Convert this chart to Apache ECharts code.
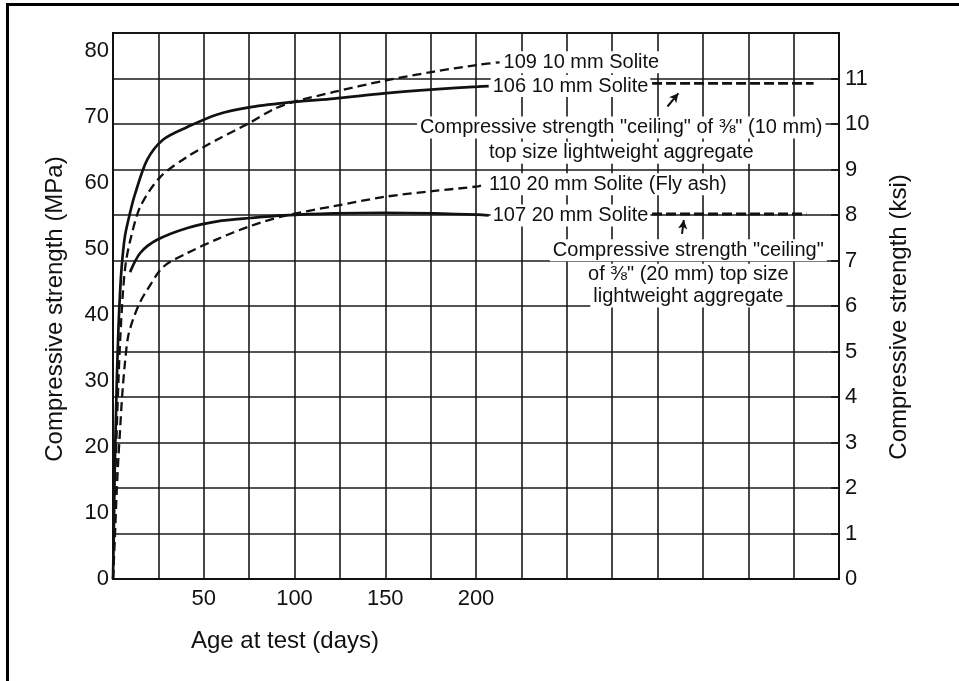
<!DOCTYPE html>
<html>
<head>
<meta charset="utf-8">
<script src="https://cdn.jsdelivr.net/npm/echarts@6/dist/echarts.min.js"></script>
<style>
  html, body { margin: 0; padding: 0; background: #fff; }
  #chart { position: absolute; left: 0; top: 0; width: 959px; height: 681px; }
  #frameTop { position: absolute; left: 6px; top: 3px; width: 953px; height: 3px; background: #000; }
  #frameLeft { position: absolute; left: 6px; top: 3px; width: 3px; height: 678px; background: #000; }
</style>
</head>
<body>
<div id="chart"></div>
<div id="frameTop"></div>
<div id="frameLeft"></div>
<script>
// ---- data (age in days, strength in MPa) ----
const s109 = [[0,0],[0.5,5],[1,12],[2,22],[3,30],[4,36.5],[5.5,43.5],[7,47.8],[9.4,51.2],[15,56.4],[26,60.9],[41,64.0],[57.5,66.6],[75.8,69.2],[88.5,71.2],[99.6,72.3],[121.7,73.8],[149.4,75.5],[177,76.9],[201,77.9],[213,78.3]];
const s106 = [[0,0],[0.5,8],[1,17],[2,29],[3,38],[4,44],[5,48.0],[6.6,52.0],[9.4,55.5],[12,58.2],[18.8,63.5],[27.7,66.6],[41,68.5],[57.5,70.4],[75.8,71.5],[99.6,72.3],[121.7,72.8],[149.4,73.6],[177,74.2],[201,74.6],[207,74.7]];
const s110 = [[0,0],[1,6],[2,13],[3,18.5],[3.9,22.6],[5,27.6],[6.6,32.8],[8.3,36.7],[11,39.3],[15,42.0],[18.8,43.8],[27.7,47.3],[41,49.4],[57.5,51.5],[75.8,53.5],[94,55.0],[121.7,56.5],[149.4,57.9],[177,58.8],[201,59.5],[205,59.8]];
const s107 = [[9.4,46.5],[15,49.4],[24.3,51.4],[41,53.2],[57.5,54.2],[75.8,54.7],[94,55.1],[121.7,55.4],[149.4,55.5],[177,55.4],[201,55.2],[207,55.1]];
const seriesNames = ['109 10 mm Solite', '106 10 mm Solite', '110 20 mm Solite (Fly ash)', '107 20 mm Solite'];

const ceiling10 = [[297,75.1],[386,75.1]];
const ceiling20 = [[297,55.3],[382,55.3]];
const arrow10 = [[305.5,71.6],[311.5,73.6]];
const arrow20 = [[313.5,52.3],[314.5,54.4]];
const note10Lines = ['Compressive strength "ceiling" of \u215C" (10 mm)', 'top size lightweight aggregate'];
const note10Pos = [[280,68.4],[280,64.6]];
const note20Lines = ['Compressive strength "ceiling"', 'of \u215C" (20 mm) top size', 'lightweight aggregate'];
const note20Pos = [[317,49.8],[317,46.1],[317,42.8]];

const xTickLabels = [50, 100, 150, 200];
const mpaTickLabels = [0,10,20,30,40,50,60,70,80];
const ksiTickLabels = [0,1,2,3,4,5,6,7,8,9,10,11];
const KSI = 6.894757;
const ksiMax = 12;

const FONT = "'Liberation Sans', Arial, Helvetica, sans-serif";
const INK = '#111';

function lineSeries(data, name, dashed) {
  return {
    type: 'line', name: name, data: data, yAxisIndex: 0,
    showSymbol: false, smooth: 0.3,
    lineStyle: { color: INK, width: dashed ? 2.3 : 2.7, type: dashed ? [9, 5] : 'solid' },
    endLabel: {
      show: true, formatter: name, color: INK, fontFamily: FONT, fontSize: 20,
      backgroundColor: '#fff', padding: [1, 2], distance: 2
    },
    z: 3
  };
}

function noteMarks(lines, pos) {
  return {
    symbol: 'rect', symbolSize: 0, silent: true,
    label: { show: true, position: 'inside', formatter: '{b}', color: INK, fontFamily: FONT, fontSize: 20,
             backgroundColor: '#fff', padding: [1, 3] },
    data: lines.map((t, i) => ({ name: t, coord: pos[i] }))
  };
}

function arrowMark(a) {
  return {
    silent: true, symbol: ['none', 'arrow'], symbolSize: [7, 9],
    lineStyle: { color: INK, width: 2, type: 'solid' },
    label: { show: false },
    data: [[{ coord: a[0] }, { coord: a[1] }]]
  };
}

const chart = echarts.init(document.getElementById('chart'), null, { renderer: 'canvas' });
chart.setOption({
  animation: false,
  backgroundColor: 'transparent',
  textStyle: { fontFamily: FONT, color: INK },
  grid: { left: 113, right: 120, top: 33, bottom: 102, show: true, borderColor: INK, borderWidth: 2, backgroundColor: 'transparent' },
  xAxis: {
    type: 'value', min: 0, max: 400, interval: 25,
    axisLine: { show: true, lineStyle: { color: INK, width: 2 } },
    axisTick: { show: false },
    splitLine: { show: true, lineStyle: { color: '#1a1a1a', width: 1.6 } },
    axisLabel: { color: INK, fontFamily: FONT, fontSize: 22, margin: 9,
      formatter: v => xTickLabels.includes(v) ? String(v) : '' },
    name: 'Age at test (days)', nameLocation: 'middle', nameGap: 50,
    nameTextStyle: { color: INK, fontFamily: FONT, fontSize: 24, padding: [0, 382, 0, 0] }
  },
  yAxis: [
    {
      type: 'value', position: 'left', min: 0, max: ksiMax * KSI, interval: 10,
      axisLine: { show: true, lineStyle: { color: INK, width: 2 } },
      axisTick: { show: false },
      splitLine: { show: false },
      axisLabel: { color: INK, fontFamily: FONT, fontSize: 22, margin: 4, showMaxLabel: false,
        formatter: v => { const r = Math.round(v); return (Math.abs(v - r) < 1e-6 && mpaTickLabels.includes(r)) ? String(r) : ''; } },
      name: 'Compressive strength (MPa)', nameLocation: 'middle', nameGap: 46,
      nameTextStyle: { color: INK, fontFamily: FONT, fontSize: 24, padding: [0, 6, 0, 0] }
    },
    {
      type: 'value', position: 'right', min: 0, max: ksiMax, interval: 1,
      axisLine: { show: true, lineStyle: { color: INK, width: 2 } },
      axisTick: { show: true, inside: true, length: 8, lineStyle: { color: INK, width: 1.5 } },
      splitLine: { show: true, lineStyle: { color: '#1a1a1a', width: 1.6 } },
      axisLabel: { color: INK, fontFamily: FONT, fontSize: 22, margin: 6,
        formatter: v => ksiTickLabels.includes(v) ? String(v) : '' },
      name: 'Compressive strength (ksi)', nameLocation: 'middle', nameGap: 48,
      nameTextStyle: { color: INK, fontFamily: FONT, fontSize: 24, padding: [0, 22, 0, 0] }
    }
  ],
  series: [
    lineSeries(s109, seriesNames[0], true),
    lineSeries(s106, seriesNames[1], false),
    lineSeries(s110, seriesNames[2], true),
    lineSeries(s107, seriesNames[3], false),
    {
      type: 'line', name: 'ceiling10', data: ceiling10, yAxisIndex: 0, showSymbol: false,
      lineStyle: { color: INK, width: 2.6, type: [10, 4] }, z: 3,
      markLine: arrowMark(arrow10),
      markPoint: noteMarks(note10Lines, note10Pos)
    },
    {
      type: 'line', name: 'ceiling20', data: ceiling20, yAxisIndex: 0, showSymbol: false,
      lineStyle: { color: INK, width: 3, type: [10, 4] }, z: 3,
      markLine: arrowMark(arrow20),
      markPoint: noteMarks(note20Lines, note20Pos)
    }
  ]
});
</script>
</body>
</html>
